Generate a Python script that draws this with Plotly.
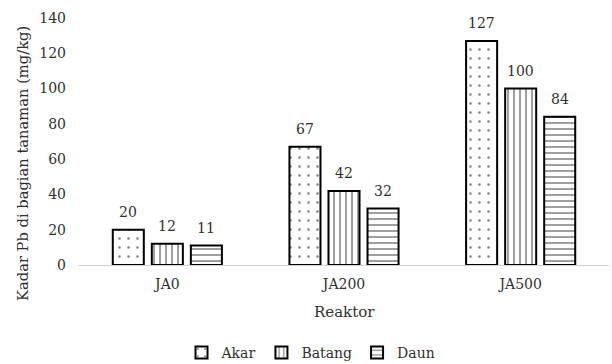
import plotly.graph_objects as go

categories = ["JA0", "JA200", "JA500"]
akar = [20, 67, 127]
batang = [12, 42, 100]
daun = [11, 32, 84]
y_ticks = [0, 20, 40, 60, 80, 100, 120, 140]

series = [
    ("Akar", akar, ".", 9, 0.06),
    ("Batang", batang, "|", 6, 0.25),
    ("Daun", daun, "-", 6, 0.25),
]

FONT = "DejaVu Serif"
TEXT = "#303030"

W, H = 612, 364
L, R, T, B = 79, 3, 18, 99
BARGAP, GROUPGAP = 0.337, 0.205

fig = go.Figure()
for name, vals, shape, size, solid in series:
    fig.add_trace(go.Bar(
        name=name,
        x=categories,
        y=vals,
        marker=dict(
            color="white",
            line=dict(color="black", width=2),
            pattern=dict(shape=shape, size=size, solidity=solid,
                         fgcolor="black", bgcolor="white", fillmode="overlay"),
        ),
    ))

# value labels above each bar, shifted sideways to sit over its bar in the group
plot_w = W - L - R
slot_px = plot_w / len(categories) * (1 - BARGAP) / len(series)
annotations = []
for k, (name, vals, *_rest) in enumerate(series):
    for cat, v in zip(categories, vals):
        annotations.append(dict(
            x=cat, y=v, xref="x", yref="y", text=str(v), showarrow=False,
            xanchor="center", yanchor="bottom", yshift=8,
            xshift=(k - 1) * slot_px,
            font=dict(family=FONT, size=14, color=TEXT),
        ))

annotations.append(dict(
    text="Kadar Pb di bagian tanaman (mg/kg)", textangle=-90,
    xref="paper", yref="paper", x=(22 - L) / plot_w, y=(H - B - 164) / (H - T - B),
    xanchor="center", yanchor="middle", showarrow=False,
    font=dict(family=FONT, size=14.7, color=TEXT),
))
annotations.append(dict(
    text="Reaktor", xref="paper", yref="paper", x=0.5, y=(H - B - 312) / (H - T - B),
    xanchor="center", yanchor="middle", showarrow=False,
    font=dict(family=FONT, size=15, color=TEXT),
))

fig.update_layout(
    width=W, height=H,
    margin=dict(l=L, r=R, t=T, b=B),
    paper_bgcolor="white", plot_bgcolor="white",
    barmode="group", bargap=BARGAP, bargroupgap=GROUPGAP,
    font=dict(family=FONT, size=13, color=TEXT),
    showlegend=True,
    legend=dict(orientation="h", xref="container", yref="container",
                x=311 / W, xanchor="center", y=(H - 353) / H, yanchor="middle",
                font=dict(family=FONT, size=14, color=TEXT),
                itemwidth=30, traceorder="normal"),
    annotations=annotations,
    xaxis=dict(
        showline=True, linecolor="#d0d0d0", linewidth=1,
        ticks="", showgrid=False, automargin=False,
        tickfont=dict(family=FONT, size=14, color=TEXT),
        ticklabelstandoff=6,
    ),
    yaxis=dict(
        range=[0, 140], tickvals=y_ticks, showgrid=False, zeroline=False, showline=False,
        ticks="", automargin=False, ticklabelstandoff=12,
        tickfont=dict(family=FONT, size=14, color=TEXT),
    ),
)

fig.write_html("out.html")
